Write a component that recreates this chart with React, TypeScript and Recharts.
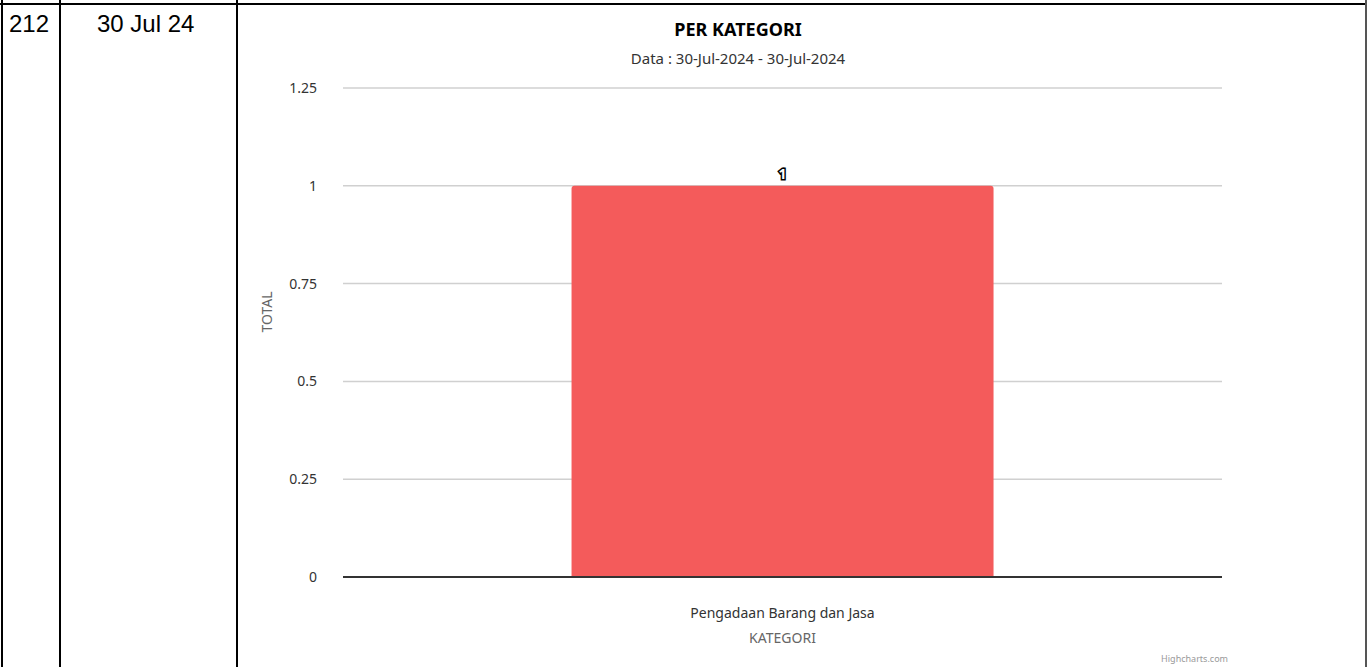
import React from 'react';
import { BarChart, Bar, XAxis, YAxis, CartesianGrid, Label, LabelList } from 'recharts';

const categories = ['Pengadaan Barang dan Jasa'];
const totals = [1];
const yTicks = [0, 0.25, 0.5, 0.75, 1, 1.25];
const rowNumber = '212';
const rowDate = '30 Jul 24';

const data = categories.map((name, i) => ({ name, total: totals[i] }));

const FONT = '"Noto Sans", "Open Sans", sans-serif';

const line = (style: React.CSSProperties): React.CSSProperties => ({
  position: 'absolute',
  background: '#000',
  ...style,
});

const App = () => (
  <div style={{ position: 'absolute', left: 0, top: 0, width: 1367, height: 667, overflow: 'hidden', background: '#fff' }}>
    {/* table borders */}
    <div style={line({ left: 0, top: 3, width: 1367, height: 2 })} />
    <div style={line({ left: 1, top: 0, width: 2, height: 667 })} />
    <div style={line({ left: 59, top: 0, width: 2, height: 667 })} />
    <div style={line({ left: 236, top: 0, width: 2, height: 667 })} />
    <div style={line({ left: 1365, top: 0, width: 2, height: 667, background: '#555' })} />

    <div style={{ position: 'absolute', left: 9, top: 10, fontFamily: 'Arial, "Liberation Sans"', fontSize: 24, lineHeight: 'normal' }}>
      {rowNumber}
    </div>
    <div style={{ position: 'absolute', left: 97, top: 10, fontFamily: 'Arial, "Liberation Sans"', fontSize: 24, lineHeight: 'normal' }}>
      {rowDate}
    </div>

    <div style={{ position: 'absolute', left: 438, width: 600, top: 17, textAlign: 'center', fontFamily: FONT, fontSize: 18, fontWeight: 'bold', color: '#000', lineHeight: 'normal' }}>
      PER KATEGORI
    </div>
    <div style={{ position: 'absolute', left: 438, width: 600, top: 48, textAlign: 'center', fontFamily: FONT, fontSize: 15, color: '#333', lineHeight: 'normal' }}>
      Data : 30-Jul-2024 - 30-Jul-2024
    </div>

    <div style={{ position: 'absolute', left: 0, top: 0 }}>
      <BarChart
        width={1367}
        height={667}
        data={data}
        margin={{ top: 88, right: 145, left: 263, bottom: 20 }}
        barCategoryGap="26%"
        style={{ fontFamily: FONT }}
      >
        <CartesianGrid vertical={false} stroke="#d0d0d0" strokeWidth={1.5} />
        <XAxis
          dataKey="name"
          height={70}
          tickLine={false}
          tickSize={0}
          tickMargin={31}
          axisLine={{ stroke: '#333', strokeWidth: 2 }}
          tick={{ fill: '#333', fontSize: 14 }}
        >
          <Label value="KATEGORI" position="insideBottom" offset={4} fill="#666" fontSize={14} />
        </XAxis>
        <YAxis
          width={80}
          domain={[0, 1.25]}
          ticks={yTicks}
          axisLine={false}
          tickLine={false}
          tickSize={0}
          tickMargin={26}
          tick={{ fill: '#333', fontSize: 14 }}
        >
          <Label value="TOTAL" angle={-90} position="insideLeft" offset={4} fill="#666" fontSize={14} />
        </YAxis>
        <Bar dataKey="total" fill="#f45b5b" radius={[3, 3, 0, 0]} isAnimationActive={false}>
          <LabelList
            dataKey="total"
            position="top"
            offset={7}
            fill="#fff"
            fontSize={14}
            fontWeight="bold"
            stroke="#000"
            strokeWidth={3}
            paintOrder="stroke"
          />
        </Bar>
      </BarChart>
    </div>

    <div style={{ position: 'absolute', left: 1028, width: 200, textAlign: 'right', top: 652, fontFamily: FONT, fontSize: 9, color: '#999', lineHeight: 'normal' }}>
      Highcharts.com
    </div>
  </div>
);

export default App;
